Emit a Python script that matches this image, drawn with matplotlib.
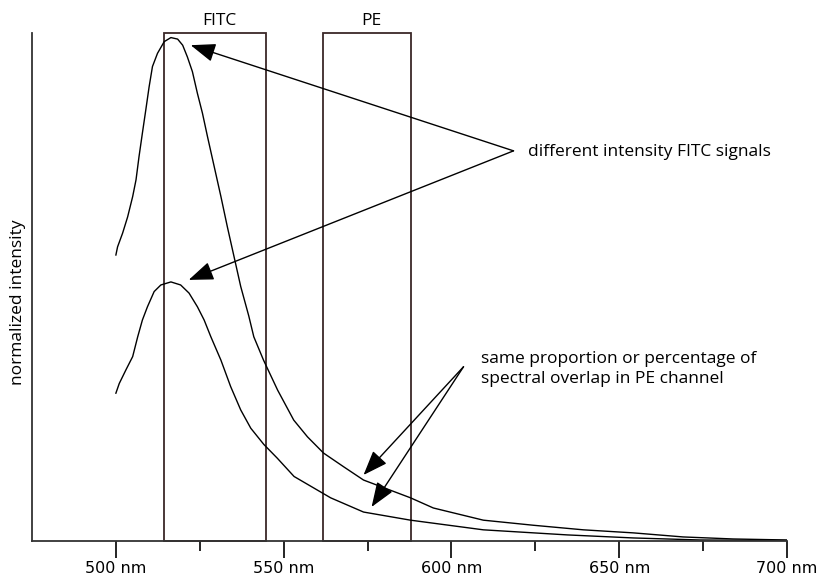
import matplotlib
matplotlib.use("Agg")
import matplotlib.pyplot as plt
from matplotlib.patches import Rectangle

# emission curves (nm, normalized intensity)
wl_high = [500, 500.5, 502.0, 503.5, 505.0, 506.0, 506.9, 507.9, 508.9, 509.9,
           510.9, 512.4, 514.4, 516.4, 518.4, 519.9, 521.3, 522.8, 524.3, 525.8,
           527.3, 529.3, 531.3, 533.2, 535.2, 537.2, 539.6, 541.1, 544.0, 548.2,
           553.0, 557.1, 561.9, 567.9, 573.8, 587.8, 594.6, 609.5, 624.4, 639.3,
           654.2, 669.0, 683.9, 700]
int_high = [0.563, 0.579, 0.606, 0.638, 0.678, 0.711, 0.757, 0.803, 0.848, 0.894,
            0.934, 0.960, 0.983, 0.991, 0.988, 0.976, 0.953, 0.924, 0.881, 0.842,
            0.796, 0.737, 0.678, 0.619, 0.560, 0.501, 0.443, 0.402, 0.356, 0.297,
            0.238, 0.205, 0.173, 0.146, 0.120, 0.085, 0.065, 0.041, 0.031, 0.022,
            0.016, 0.008, 0.004, 0.002]

wl_low = [500, 501.0, 503.0, 505.0, 506.5, 507.9, 509.4, 511.4, 513.4, 516.4,
          519.3, 521.8, 524.3, 526.3, 528.3, 531.3, 534.2, 537.2, 540.2, 544.1,
          548.1, 553.1, 564.0, 573.8, 587.8, 609.5, 634.5, 654.2, 674.1, 700]
int_low = [0.291, 0.310, 0.337, 0.363, 0.402, 0.435, 0.461, 0.491, 0.504, 0.510,
           0.504, 0.488, 0.461, 0.435, 0.402, 0.356, 0.304, 0.258, 0.222, 0.190,
           0.163, 0.127, 0.085, 0.057, 0.041, 0.022, 0.012, 0.006, 0.002, 0.001]

# detector channels (nm)
channel_names = ["FITC", "PE"]
channel_lo = [514.3, 561.6]
channel_hi = [544.6, 587.8]

tick_vals = [500, 550, 600, 650, 700]
tick_labels = ["500 nm", "550 nm", "600 nm", "650 nm", "700 nm"]

txt_font = ["Open Sans", "DejaVu Sans"]
fs = 12.5

fig = plt.figure(figsize=(8.17, 5.78), dpi=100)
ax = fig.add_axes([32 / 817, 37 / 578, 755 / 817, 508 / 578])

ax.plot(wl_high, int_high, color="black", lw=1.0)
ax.plot(wl_low, int_low, color="black", lw=1.0)

for name, lo, hi in zip(channel_names, channel_lo, channel_hi):
    ax.add_patch(Rectangle((lo, 0), hi - lo, 1, fill=False,
                           edgecolor="#3a2828", lw=1.3, clip_on=False))
    ax.text((lo + hi) / 2 + 1.5, 1.008, name, ha="center", va="bottom",
            fontsize=fs, family=txt_font)

# arrows
arrow_kw = dict(arrowstyle="-|>,head_length=0.85,head_width=0.32",
                color="black", lw=1.0, mutation_scale=18,
                shrinkA=0, shrinkB=0)
for tip in [(522.3, 0.976), (521.7, 0.514)]:
    ax.annotate("", xy=tip, xytext=(618.5, 0.768), arrowprops=arrow_kw)
ax.text(622.9, 0.766, "different intensity FITC signals", ha="left",
        va="center", fontsize=fs, family=txt_font)

for tip in [(573.8, 0.130), (576.2, 0.067)]:
    ax.annotate("", xy=tip, xytext=(603.6, 0.343), arrowprops=arrow_kw)
ax.text(608.9, 0.339, "same proportion or percentage of\nspectral overlap in PE channel",
        ha="left", va="center", fontsize=fs, family=txt_font, linespacing=1.3)

ax.set_xlim(475, 700)
ax.set_ylim(0, 1)
ax.set_xticks(tick_vals)
ax.set_xticklabels(tick_labels, fontsize=11.5, family="DejaVu Sans")
ax.set_xticks([525, 575, 625, 675], minor=True)
ax.tick_params(axis="x", which="major", length=12, width=1.2, pad=2.5)
ax.tick_params(axis="x", which="minor", length=7, width=1.2)
ax.set_yticks([])
ax.set_ylabel("normalized intensity", fontsize=fs, family=txt_font, labelpad=4)
ax.yaxis.label.set_y(0.47)

ax.spines["top"].set_visible(False)
ax.spines["right"].set_visible(False)
for s in ["left", "bottom"]:
    ax.spines[s].set_linewidth(1.3)
    ax.spines[s].set_color("#333333")

fig.savefig("out.png", dpi=100)
